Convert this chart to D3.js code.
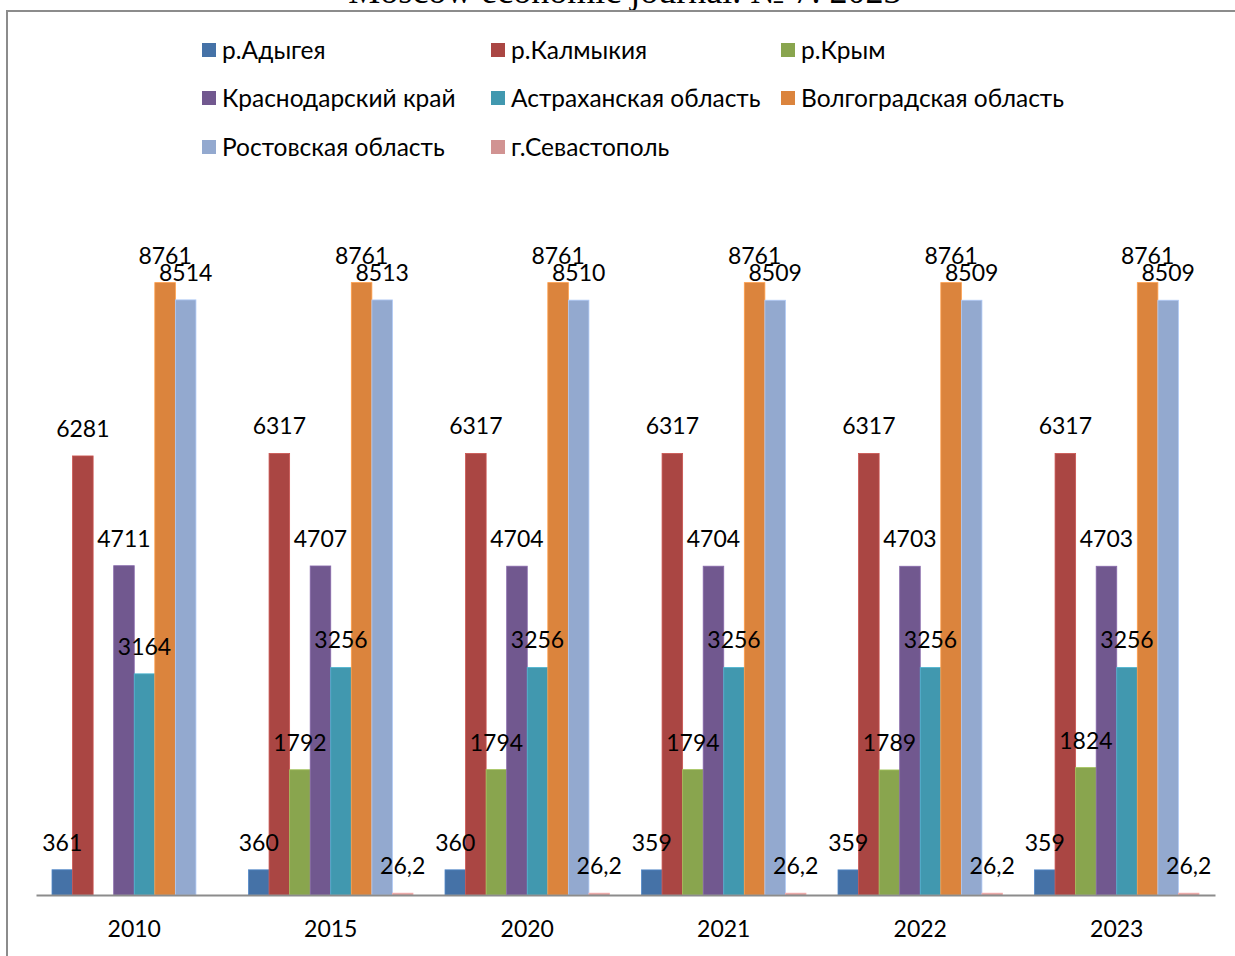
<!DOCTYPE html>
<html>
<head>
<meta charset="utf-8">
<script src="https://cdn.jsdelivr.net/npm/d3@7"></script>
<style>
  html, body { margin: 0; padding: 0; background: #fff; }
  svg { display: block; }
</style>
</head>
<body>
<svg id="chart" width="1235" height="956"></svg>
<script>
const years = ["2010", "2015", "2020", "2021", "2022", "2023"];
const seriesNames = ["р.Адыгея", "р.Калмыкия", "р.Крым", "Краснодарский край", "Астраханская область", "Волгоградская область", "Ростовская область", "г.Севастополь"];
const seriesColors = ["#4572A7", "#AA4643", "#89A54E", "#71588F", "#4198AF", "#DB843D", "#93A9CF", "#D19392"];
const adygea     = [361, 360, 360, 359, 359, 359];
const kalmykia   = [6281, 6317, 6317, 6317, 6317, 6317];
const crimea     = [null, 1792, 1794, 1794, 1789, 1824];
const krasnodar  = [4711, 4707, 4704, 4704, 4703, 4703];
const astrakhan  = [3164, 3256, 3256, 3256, 3256, 3256];
const volgograd  = [8761, 8761, 8761, 8761, 8761, 8761];
const rostov     = [8514, 8513, 8510, 8509, 8509, 8509];
const sevastopol = [null, 26.2, 26.2, 26.2, 26.2, 26.2];
const seriesValues = [adygea, kalmykia, crimea, krasnodar, astrakhan, volgograd, rostov, sevastopol];
const yMax = 10000;
const titleText = "Moscow economic journal. № 7. 2023";

const svg = d3.select("#chart");
const font = "Lato, 'Open Sans', sans-serif";

// cut-off page title
svg.append("text")
  .attr("x", 625).attr("y", 3)
  .attr("text-anchor", "middle")
  .attr("font-family", "'Liberation Serif', 'DejaVu Serif', serif")
  .attr("font-size", 36)
  .attr("fill", "#000")
  .text(titleText);

// frame
svg.append("path")
  .attr("d", "M7,956 V11 H1235")
  .attr("fill", "none")
  .attr("stroke", "#8c8c8c")
  .attr("stroke-width", 2);

const plotLeft = 36, plotRight = 1215, baseY = 895, topY = 196;
const x0 = d3.scaleBand().domain(years).range([plotLeft, plotRight]).padding(0);
const gap = 16;
const x1 = d3.scaleBand().domain(d3.range(seriesNames.length)).range([gap, x0.bandwidth() - gap]).padding(0);
const y = d3.scaleLinear().domain([0, yMax]).range([baseY, topY]);

const data = [];
years.forEach((yr, i) => {
  seriesValues.forEach((vals, s) => {
    if (vals[i] !== null && vals[i] !== undefined) data.push({ yr, s, v: vals[i] });
  });
});

const g = svg.append("g");
g.selectAll("rect.bar").data(data).enter().append("rect")
  .attr("class", "bar")
  .attr("x", d => x0(d.yr) + x1(d.s))
  .attr("y", d => y(d.v))
  .attr("width", x1.bandwidth())
  .attr("height", d => baseY - y(d.v))
  .attr("fill", d => seriesColors[d.s])
  .attr("stroke", d => d3.color(seriesColors[d.s]).brighter(0.5))
  .attr("stroke-width", 0.8);

// axis
const xAxis = d3.axisBottom(x0).tickSize(0).tickPadding(26);
const ax = svg.append("g").attr("transform", `translate(0,${baseY})`).call(xAxis);
ax.select(".domain").attr("stroke", "#8c8c8c").attr("stroke-width", 2);
ax.selectAll("text").attr("font-family", font).attr("font-size", 23).attr("fill", "#000");

// data labels
g.selectAll("text.lbl").data(data).enter().append("text")
  .attr("class", "lbl")
  .attr("x", d => x0(d.yr) + x1(d.s) + x1.bandwidth() / 2)
  .attr("y", d => y(d.v) - 27)
  .attr("dy", "0.35em")
  .attr("text-anchor", "middle")
  .attr("font-family", font)
  .attr("font-size", 23)
  .attr("fill", "#000")
  .text(d => String(d.v).replace(".", ","));

// legend
const legCols = [202, 491, 781];
const legRows = [50, 98, 147];
const leg = svg.append("g");
seriesNames.forEach((name, i) => {
  const cx = legCols[i % 3], cy = legRows[Math.floor(i / 3)];
  leg.append("rect").attr("x", cx).attr("y", cy - 7).attr("width", 14).attr("height", 14).attr("fill", seriesColors[i]);
  leg.append("text").attr("x", cx + 20).attr("y", cy).attr("dy", "0.35em")
    .attr("font-family", font).attr("font-size", 24.5).attr("fill", "#000").text(name);
});
</script>
</body>
</html>
